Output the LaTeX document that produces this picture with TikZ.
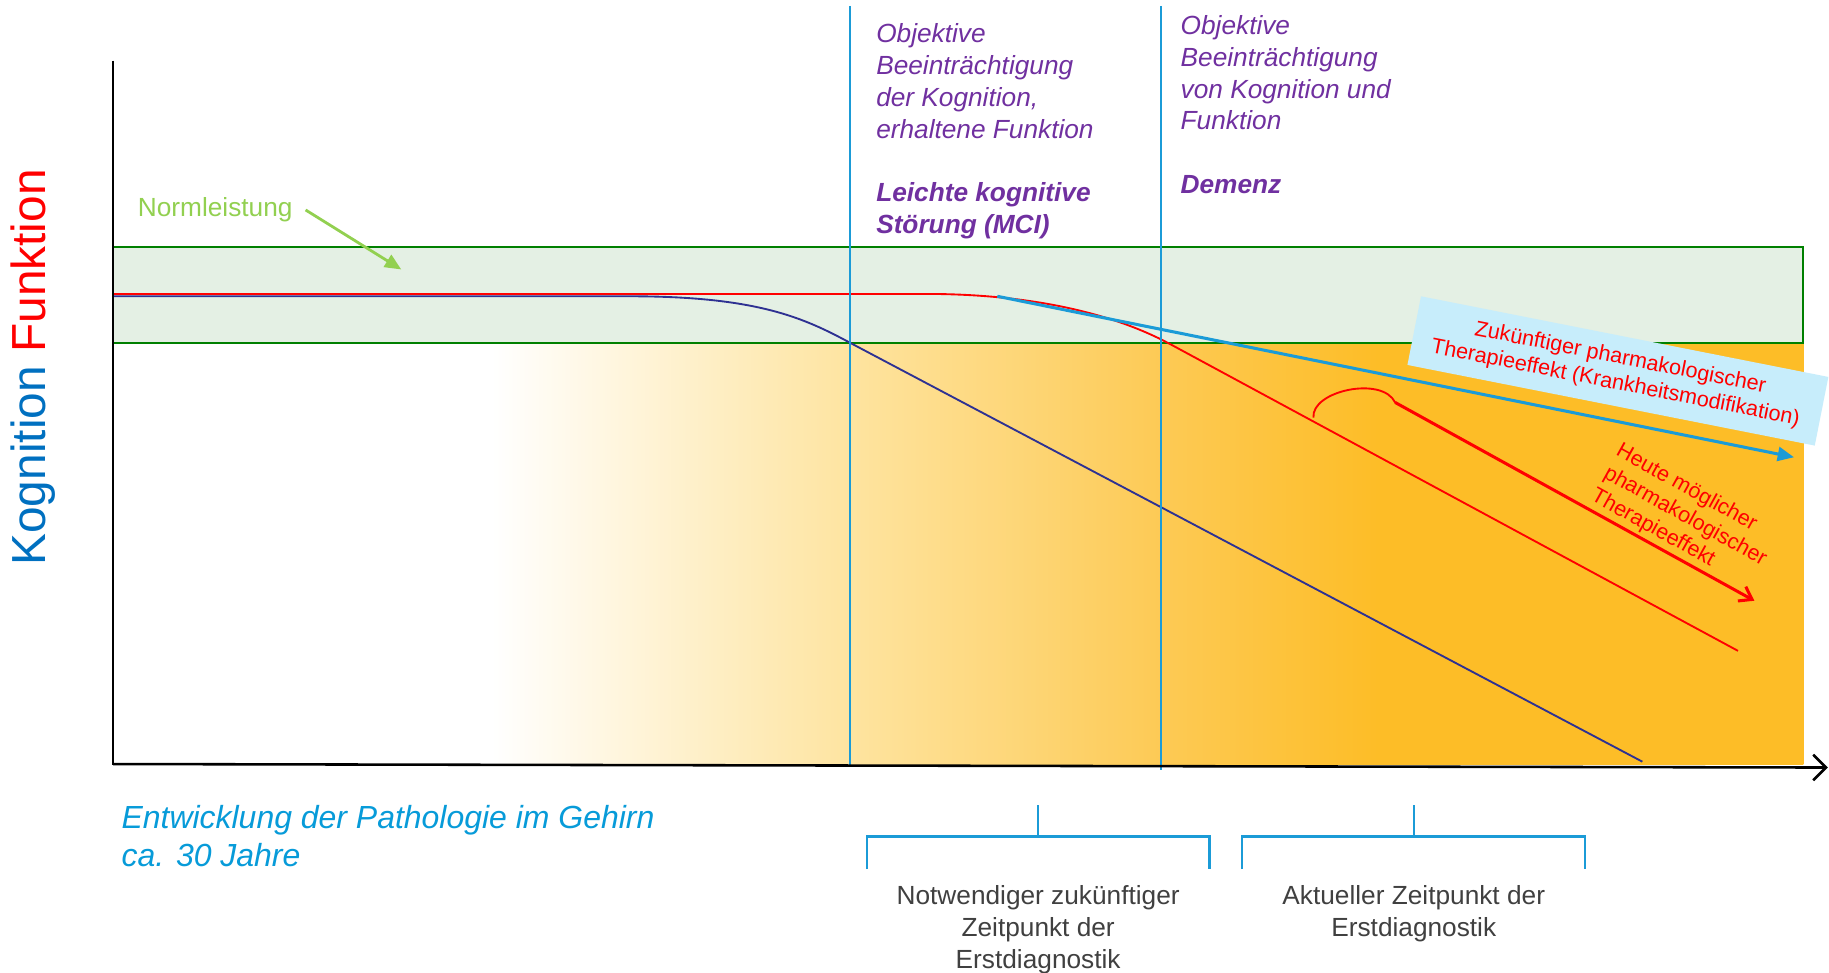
\documentclass[tikz,border=0pt]{standalone}
\usepackage{fontspec}
\setmainfont{Liberation Sans}
\usetikzlibrary{arrows.meta}
\definecolor{og1}{RGB}{254,228,160}
\definecolor{og2}{RGB}{253,202,85}
\definecolor{og3}{RGB}{253,189,39}
\definecolor{bandfill}{RGB}{228,240,228}
\definecolor{bandline}{RGB}{0,128,0}
\definecolor{vblue}{RGB}{27,155,215}
\definecolor{navy}{RGB}{46,49,146}
\definecolor{purp}{RGB}{112,48,160}
\definecolor{normgreen}{RGB}{146,208,80}
\definecolor{kogblue}{RGB}{0,112,192}
\definecolor{pathblue}{RGB}{7,155,217}
\definecolor{boxcyan}{RGB}{199,237,251}
\definecolor{graytxt}{RGB}{64,64,64}
\pgfdeclarehorizontalshading{orangegrad}{100bp}{color(0bp)=(white); color(36.2bp)=(white); color(46.8bp)=(og1); color(56bp)=(og2); color(62.4bp)=(og3); color(100bp)=(og3)}
\begin{document}
\begin{tikzpicture}[x=1pt,y=-1pt,
  purpletxt/.style={text=purp, font=\fontsize{22.5}{27.3}\selectfont\itshape, align=left, inner sep=0, anchor=north west},
  graylabel/.style={text=graytxt, font=\fontsize{22.5}{27.5}\selectfont, align=center, inner sep=0, anchor=north},
  vline/.style={draw=vblue, line width=1.5},
  bracket/.style={draw=vblue, line width=2},
  thinred/.style={draw=red, line width=1.6},
  redtxt/.style={text=red, font=\fontsize{18.5}{22}\selectfont, inner sep=0}
]
% canvas
\fill[white] (0,0) rectangle (1568,834);
\useasboundingbox (0,0) rectangle (1568,834);

% orange gradient region and green norm band
\shade[shading=orangegrad] (97,294) rectangle (1546,655);
\filldraw[fill=bandfill, draw=bandline, line width=1.6] (97,212) rectangle (1546,294);

% key points
\coordinate (o) at (97,655);
\coordinate (ytop) at (97,52);
\coordinate (xend) at (1567,658);
\coordinate (fork) at (855,254);
\coordinate (arcstart) at (1126,358);
\coordinate (arcend) at (1196,345);

% curves
\draw[navy, line width=1.6] (97,254) -- (540,254) .. controls (650,254) and (690,273) .. (729,294) -- (1408,653);
\draw[thinred] (97,252) -- (800,252) .. controls (900,253) and (965,274) .. (1005,296) -- (1490,558);

% vertical stage lines
\draw[vline] (729,5) -- (729,657);
\draw[vline] (995,5) -- (995,660);

% future therapy arrow
\draw[vblue, line width=2.6, -{Triangle[length=14,width=12]}] (fork) -- (1538,392);

% rotated box
\node[fill=boxcyan, rotate=-11.2, minimum width=356, minimum height=60, inner sep=0, align=center, redtxt] (box) at (1387,318) {Zukünftiger pharmakologischer\\Therapieeffekt (Krankheitsmodifikation)};

% current therapy effect
\draw[thinred] (arcstart) .. controls (1124,335) and (1185,322) .. (arcend);
\draw[red, line width=2.6, -{Straight Barb[length=10,width=14]}] (arcend) -- (1504,515);
\node[redtxt, rotate=-29, anchor=north west, align=left] (heute) at (1391,378) {Heute möglicher\\pharmakologischer\\Therapieeffekt};

% axes
\draw[black, line width=1.8] (ytop) -- (97,656);
\draw[black, line width=2.2, -{Straight Barb[length=11,width=22]}] (o) -- (xend);

% y label
\node[rotate=90, inner sep=0, font=\fontsize{41}{41}\selectfont] (ylab) at (28,315) {\textcolor{kogblue}{Kognition} \textcolor{red}{Funktion}};

% Normleistung
\node[text=normgreen, font=\fontsize{22.5}{27}\selectfont, inner sep=0, anchor=base west] (norm) at (118,186) {Normleistung};
\coordinate (normtip) at (344,231);
\draw[normgreen, line width=2.4, -{Triangle[length=14,width=12]}] (262,180) -- (normtip);

% stage texts
\node[purpletxt] (mci) at (751,20) {Objektive\\Beeinträchtigung\\der Kognition,\\erhaltene Funktion\\[27.3pt]\textbf{Leichte kognitive}\\\textbf{Störung (MCI)}};
\node[purpletxt] (dem) at (1012,13) {Objektive\\Beeinträchtigung\\von Kognition und\\Funktion\\[27.3pt]\textbf{Demenz}};

% pathology text
\node[text=pathblue, font=\fontsize{27.4}{33}\selectfont\itshape, align=left, inner sep=0, anchor=north west] (path) at (104,690) {Entwicklung der Pathologie im Gehirn\\ca. 30 Jahre};

% brackets
\draw[bracket] (743,745) -- (743,717) -- (1037,717) -- (1037,745);
\draw[bracket] (890,717) -- (890,690);
\draw[bracket] (1065,745) -- (1065,717) -- (1359,717) -- (1359,745);
\draw[bracket] (1212,717) -- (1212,690);

\node[graylabel] (future) at (890,759) {Notwendiger zukünftiger\\Zeitpunkt der\\Erstdiagnostik};
\node[graylabel] (current) at (1212,759) {Aktueller Zeitpunkt der\\Erstdiagnostik};
\end{tikzpicture}
\end{document}
